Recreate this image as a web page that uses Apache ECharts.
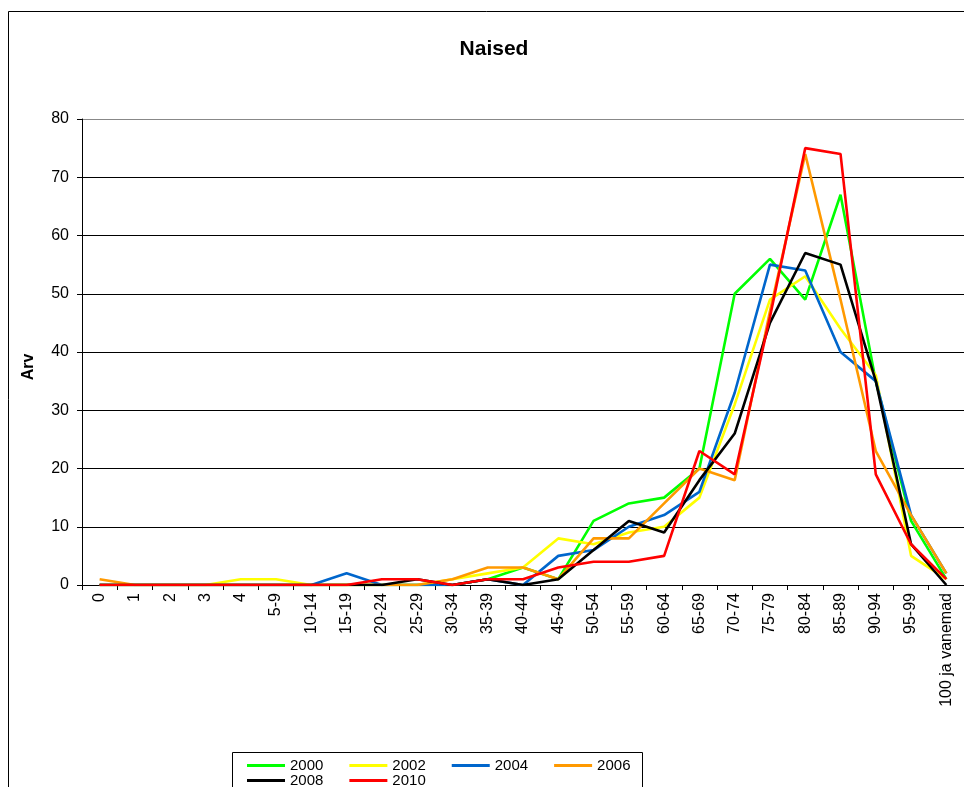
<!DOCTYPE html>
<html>
<head>
<meta charset="utf-8">
<script src="https://cdn.jsdelivr.net/npm/echarts@6/dist/echarts.min.js"></script>
<style>
html,body{margin:0;padding:0;background:#fff;}
#chart{width:964px;height:787px;}
</style>
</head>
<body>
<div id="chart"></div>
<script>
const categories = ['0','1','2','3','4','5-9','10-14','15-19','20-24','25-29','30-34','35-39','40-44','45-49','50-54','55-59','60-64','65-69','70-74','75-79','80-84','85-89','90-94','95-99','100 ja vanemad'];
const yTicks = [0,10,20,30,40,50,60,70,80];
const seriesNames = ['2000','2002','2004','2006','2008','2010'];
const y2000 = [0,0,0,0,0,0,0,0,0,0,0,1,3,1,11,14,15,20,50,56,49,67,35,11,1];
const y2002 = [0,0,0,0,1,1,0,0,0,0,1,2,3,8,7,9,10,15,31,49,53,44,36,5,1];
const y2004 = [0,0,0,0,0,0,0,2,0,0,0,1,0,5,6,10,12,16,33,55,54,40,35,12,2];
const y2006 = [1,0,0,0,0,0,0,0,0,0,1,3,3,1,8,8,14,20,18,47,74,49,23,12,2];
const y2008 = [0,0,0,0,0,0,0,0,0,1,0,1,0,1,6,11,9,18,26,45,57,55,35,7,0];
const y2010 = [0,0,0,0,0,0,0,0,1,1,0,1,1,3,4,4,5,23,19,46,75,74,19,7,1];
const seriesValues = [y2000,y2002,y2004,y2006,y2008,y2010];
const colors = ['#00FF00','#FFFF00','#0066CC','#FF9900','#000000','#FF0000'];

const FONT = '"Liberation Sans", Arial, sans-serif';
const chart = echarts.init(document.getElementById('chart'), null, {renderer:'canvas'});

const splitColors = yTicks.map((v,i) => i === yTicks.length-1 ? '#888888' : '#000000');

const legendCommon = {
  orient:'horizontal',
  icon:'rect',
  itemWidth:38,
  itemHeight:3,
  itemGap:26,
  padding:0,
  textStyle:{fontFamily:FONT,fontSize:15,color:'#000'},
  selectedMode:false
};

chart.setOption({
  animation:false,
  backgroundColor:'#fff',
  color:colors,
  title:{
    text:'Naised',
    left:494,
    textAlign:'center',
    top:39,
    padding:0,
    textStyle:{fontFamily:FONT,fontSize:21,fontWeight:'bold',color:'#000'}
  },
  graphic:[
    {type:'rect',silent:true,shape:{x:8.5,y:11.5,width:1000,height:1000},style:{fill:'none',stroke:'#000',lineWidth:1}},
    {type:'rect',silent:true,shape:{x:232.5,y:752.5,width:410,height:100},style:{fill:'none',stroke:'#000',lineWidth:1}}
  ],
  legend:[
    Object.assign({}, legendCommon, {left:247, top:758, data:seriesNames.slice(0,4)}),
    Object.assign({}, legendCommon, {left:247, top:773, data:seriesNames.slice(4)})
  ],
  grid:{left:82,top:119,width:885,height:466,containLabel:false},
  xAxis:{
    type:'category',
    data:categories,
    boundaryGap:true,
    axisLine:{show:true,lineStyle:{color:'#000',width:1}},
    axisTick:{show:true,interval:0,length:5,lineStyle:{color:'#000'}},
    axisLabel:{interval:0,rotate:90,margin:8,fontFamily:FONT,fontSize:16,color:'#000'},
    splitLine:{show:false}
  },
  yAxis:{
    type:'value',
    min:0,max:80,interval:10,
    name:'Arv',
    nameLocation:'middle',
    nameGap:45,
    nameTextStyle:{fontFamily:FONT,fontSize:16,fontWeight:'bold',color:'#000',padding:[0,30,0,0]},
    axisLine:{show:true,lineStyle:{color:'#000',width:1}},
    axisTick:{show:true,length:5,lineStyle:{color:'#000'}},
    axisLabel:{margin:13,fontFamily:FONT,fontSize:16,color:'#000'},
    splitLine:{show:true,lineStyle:{color:splitColors,width:1}}
  },
  series: seriesNames.map((n,i)=>({
    name:n,
    type:'line',
    data:seriesValues[i],
    symbol:'none',
    lineStyle:{width:2.6,color:colors[i]},
    itemStyle:{color:colors[i]},
    emphasis:{disabled:true}
  }))
});
</script>
</body>
</html>
